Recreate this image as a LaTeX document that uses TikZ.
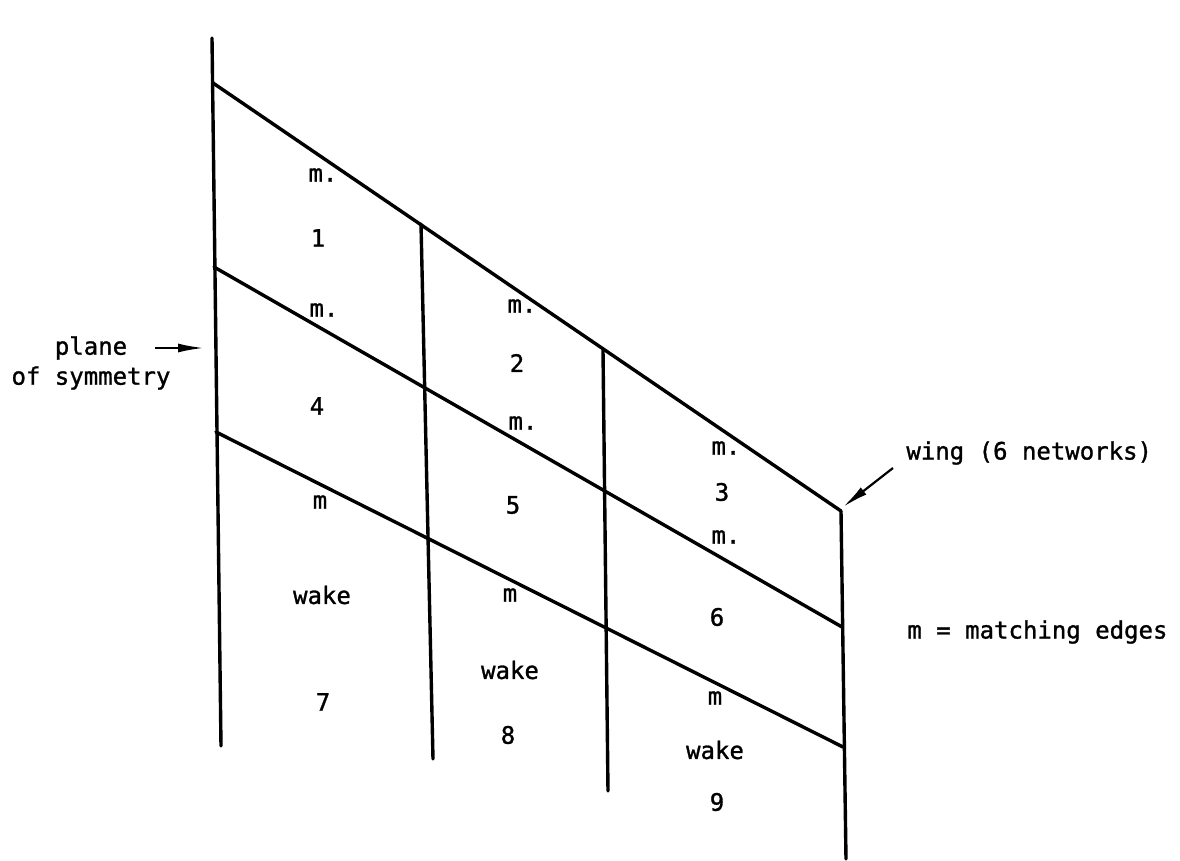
\documentclass[tikz,border=0pt]{standalone}
\usepackage{fontspec}
\newfontfamily\lblfont[FakeBold=1.2]{DejaVu Sans Mono}
\usetikzlibrary{arrows.meta}
\begin{document}
\begin{tikzpicture}[x=0.5pt,y=-0.5pt,
  edge/.style={line width=1.7pt, line cap=round},
  lbl/.style={font=\lblfont\fontsize{12}{15}\selectfont, inner sep=0pt},
  pointer/.style={line width=1.1pt,-{Latex[length=13pt,width=4.5pt]}}]
\useasboundingbox (0,0) rectangle (1180,861);
% corners
\coordinate (L0) at (212,38);
\coordinate (LA) at (213,83);
\coordinate (LB) at (214,267);
\coordinate (LC) at (216,432);
\coordinate (L1) at (221,746);
\coordinate (V2a) at (421,224);
\coordinate (V2b) at (433,759);
\coordinate (V3a) at (603,350);
\coordinate (V3b) at (608,791);
\coordinate (RA) at (841,511);
\coordinate (RB) at (842,627);
\coordinate (RC) at (843,747);
\coordinate (R1) at (846,859);
% lines
\draw[edge] (L0) -- (L1);
\draw[edge] (V2a) -- (V2b);
\draw[edge] (V3a) -- (V3b);
\draw[edge] (RA) -- (R1);
\draw[edge] (LA) -- (RA);
\draw[edge] (LB) -- (RB);
\draw[edge] (LC) -- (RC);
% labels column 1
\node[lbl] (m1) at (323,175) {m.};
\node[lbl] (n1) at (318,238) {1};
\node[lbl] (m4) at (324,310) {m.};
\node[lbl] (n4) at (317,406) {4};
\node[lbl] (m7) at (320,502) {m};
\node[lbl] (w7) at (322,595) {wake};
\node[lbl] (n7) at (323,702) {7};
% column 2
\node[lbl] (m2) at (522,306) {m.};
\node[lbl] (n2) at (517,363) {2};
\node[lbl] (m5) at (523,423) {m.};
\node[lbl] (n5) at (513,505) {5};
\node[lbl] (m8) at (510,595) {m};
\node[lbl] (w8) at (510,670) {wake};
\node[lbl] (n8) at (508,735) {8};
% column 3
\node[lbl] (m3) at (726,448) {m.};
\node[lbl] (n3) at (722,492) {3};
\node[lbl] (m6) at (726,537) {m.};
\node[lbl] (n6) at (717,617) {6};
\node[lbl] (m9) at (715,698) {m};
\node[lbl] (w9) at (715,750) {wake};
\node[lbl] (n9) at (717,802) {9};
% annotations
\node[lbl, align=center] (plane) at (91,363) {plane\\of symmetry};
\coordinate (pt) at (155,348);
\coordinate (ph) at (204,348);
\draw[pointer] (pt) -- (ph);
\node[lbl, anchor=west] (wing) at (906,453) {wing (6 networks)};
\coordinate (wt) at (893,468);
\coordinate (wh) at (843,507);
\draw[pointer] (wt) -- (wh);
\node[lbl, anchor=west] (key) at (907,632) {m = matching edges};
\end{tikzpicture}
\end{document}
